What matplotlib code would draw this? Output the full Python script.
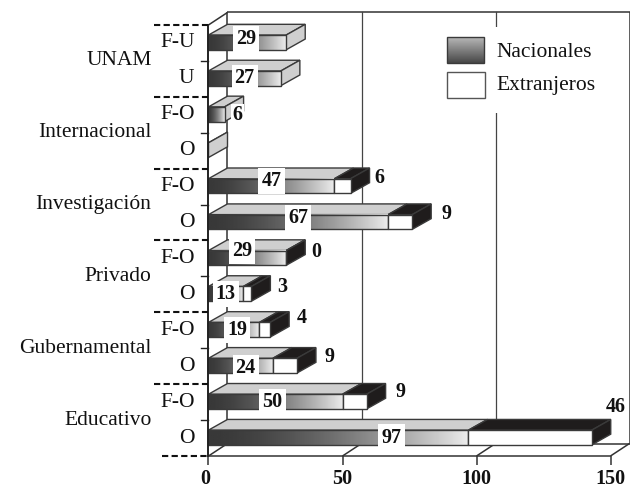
import numpy as np
import matplotlib
matplotlib.use('Agg')
import matplotlib.pyplot as plt
from matplotlib.patches import Polygon, Rectangle

# rows from bottom to top
row_labels = ['O', 'F-O', 'O', 'F-O', 'O', 'F-O', 'O', 'F-O', 'O', 'F-O', 'U', 'F-U']
groups = ['Educativo', 'Gubernamental', 'Privado', 'Investigación', 'Internacional', 'UNAM']
nacionales = [97, 50, 24, 19, 13, 29, 67, 47, 0, 6, 27, 29]
extranjeros = [46, 9, 9, 4, 3, 0, 9, 6, None, None, None, None]
x_ticks = [0, 50, 100, 150]

plt.rcParams['font.family'] = ['Liberation Serif', 'DejaVu Serif']

# pixel scale of the printed chart
PX_X = 2.68
PX_Y = 35.92
X0 = 208.5
Y0 = 456
DX = 19 / PX_X      # wall depth
DY = 12.5 / PX_Y
BX = 19 / PX_X      # bar depth
BY = 10.7 / PX_Y
BAR_BOTTOM = 0.31
BAR_H = 0.41
EDGE = '#3a3a3a'
NUM_SIZE = 14.5
TXT_SIZE = 15.5

# label nudges in pixels (right, down), by row
nudge_in = [(53, 0), (-3, 0), (5, 2), (3, 0), (0, 0), (-5, -7), (0, -4), (0, -5), (0, 0), (0, 0), (0, 0), (-1, -3.5)]
nudge_out = [(5, -31), (15, -10), (14, -9), (13, -12), (12, -7), (11, -6), (15, -8), (10, -8)]

fig = plt.figure(figsize=(6.3, 4.88), dpi=100)
ax = fig.add_axes([0, 0, 1, 1])

n_rows = len(row_labels)
x_max = x_ticks[-1]

# walls and floor
wall = dict(color='#333333', lw=1.1, zorder=1, solid_capstyle='butt')
ax.plot([DX, DX], [DY, n_rows + DY], **wall)
ax.plot([DX, x_max + DX, x_max + DX], [n_rows + DY, n_rows + DY, DY], **wall)
ax.plot([DX, x_max + DX], [DY, DY], **wall)
ax.plot([0, x_max, x_max + DX], [0, 0, DY], **wall)
ax.plot([0, 0], [0, n_rows], color='#222222', lw=1.4, zorder=6)
ax.plot([0, DX], [n_rows, n_rows + DY], **wall)
for t in x_ticks:
    ax.plot([t, t], [-9 / PX_Y, 0], **wall)
    ax.text(t - (3 / PX_X if t == 0 else 0), -22.5 / PX_Y, str(t), ha='center', va='center',
            fontsize=NUM_SIZE, fontweight='bold', color='#111111')
    if t not in (0, x_max):
        ax.plot([t + DX, t + DX], [DY, n_rows + DY], color='#444444', lw=0.9, zorder=1)
    if t != x_max:
        ax.plot([t, t + DX], [0, DY], **wall)

# row ticks and group separators
for r in range(n_rows + 1):
    if r % 2 == 0:
        ax.plot([-54 / PX_X if r else -46 / PX_X, 0], [r, r], color='#111111', lw=1.5,
                dashes=(3, 1.6), zorder=6)
    else:
        ax.plot([-7 / PX_X, 0], [r, r], color='#222222', lw=1.0, zorder=6)


def gradient_face(x0, x1, y0, y1):
    img = (0.22 + 0.7 * np.linspace(0, 1, 128) ** 1.6).reshape(1, -1)
    if x1 > x0:
        ax.imshow(img, extent=[x0, x1, y0, y1], cmap='gray', vmin=0, vmax=1,
                  aspect='auto', zorder=5, interpolation='bilinear')
        ax.add_patch(Rectangle((x0, y0), x1 - x0, y1 - y0, fc='none', ec=EDGE, lw=1.0, zorder=5))


def segment(x0, x1, y0, top_color, side_color=None):
    y1 = y0 + BAR_H
    ax.add_patch(Polygon([(x0, y1), (x1, y1), (x1 + BX, y1 + BY), (x0 + BX, y1 + BY)],
                         fc=top_color, ec=EDGE, lw=1.0, zorder=4))
    if side_color:
        ax.add_patch(Polygon([(x1, y0), (x1 + BX, y0 + BY), (x1 + BX, y1 + BY), (x1, y1)],
                             fc=side_color, ec=EDGE, lw=1.0, zorder=4))


# bars, back to front
for r in reversed(range(n_rows)):
    nac = nacionales[r]
    ext = extranjeros[r]
    y0 = r + BAR_BOTTOM
    y1 = y0 + BAR_H
    total = nac + (ext or 0)
    segment(0, nac, y0, '#cfcfcf', None if ext is not None else '#cfcfcf')
    gradient_face(0, nac, y0, y1)
    if ext is not None:
        segment(nac, total, y0, '#1f1c1c', '#1f1c1c')
        ax.add_patch(Rectangle((nac, y0), ext, BAR_H, fc='white', ec=EDGE, lw=1.0, zorder=5))
    if nac == 6:
        ax.annotate(str(nac), (nac + BX * 0.55, y0 + BAR_H / 2), xytext=(2, -0.5),
                    textcoords='offset points', ha='center', va='center', fontsize=NUM_SIZE,
                    fontweight='bold', color='#111111', zorder=8,
                    bbox=dict(fc='white', ec='none', pad=1))
    elif nac:
        dx, dy = nudge_in[r]
        ax.annotate(str(nac), (nac / 2, y0 + BAR_H / 2), xytext=(dx * 0.72, -dy * 0.72),
                    textcoords='offset points', ha='center', va='center', fontsize=NUM_SIZE,
                    fontweight='bold', color='#111111', zorder=8,
                    bbox=dict(fc='white', ec='none', pad=2.2))
    if ext is not None:
        dx, dy = nudge_out[r]
        ax.annotate(str(ext), (total + BX, y0 + BAR_H / 2), xytext=(dx * 0.72, -dy * 0.72),
                    textcoords='offset points', ha='center', va='center', fontsize=NUM_SIZE,
                    fontweight='bold', color='#111111', zorder=8)

# row and group labels
for r, lab in enumerate(row_labels):
    ax.text(-14 / PX_X, r + 0.5, lab, ha='right', va='center', fontsize=TXT_SIZE, color='#111111')
for g, lab in enumerate(groups):
    ax.text(-57 / PX_X, 2 * g + 1, lab, ha='right', va='center', fontsize=TXT_SIZE, color='#111111')


# legend, its white panel hides the grid line
def lx(px):
    return (px - X0) / PX_X


def ly(py):
    return (Y0 - py) / PX_Y


ax.add_patch(Rectangle((lx(430), ly(113)), lx(610) - lx(430), ly(27) - ly(113), fc='white', ec='none', zorder=2))
img = np.linspace(0.72, 0.28, 64).reshape(-1, 1)
ax.imshow(img, extent=[lx(447), lx(484), ly(63), ly(37)], cmap='gray', vmin=0, vmax=1,
          aspect='auto', zorder=3, interpolation='bilinear')
ax.add_patch(Rectangle((lx(447), ly(63)), lx(484) - lx(447), ly(37) - ly(63), fc='none', ec=EDGE, lw=1.0, zorder=3))
ax.add_patch(Rectangle((lx(447), ly(98)), lx(485) - lx(447), ly(72) - ly(98), fc='white', ec='#555555', lw=1.0, zorder=3))
ax.text(lx(496), ly(52), 'Nacionales', ha='left', va='center', fontsize=TXT_SIZE, color='#111111', zorder=3)
ax.text(lx(496), ly(85), 'Extranjeros', ha='left', va='center', fontsize=TXT_SIZE, color='#111111', zorder=3)

ax.set_xlim(-X0 / PX_X, (630 - X0) / PX_X)
ax.set_ylim((Y0 - 488) / PX_Y, Y0 / PX_Y)
ax.axis('off')
fig.savefig('out.png', dpi=100)
